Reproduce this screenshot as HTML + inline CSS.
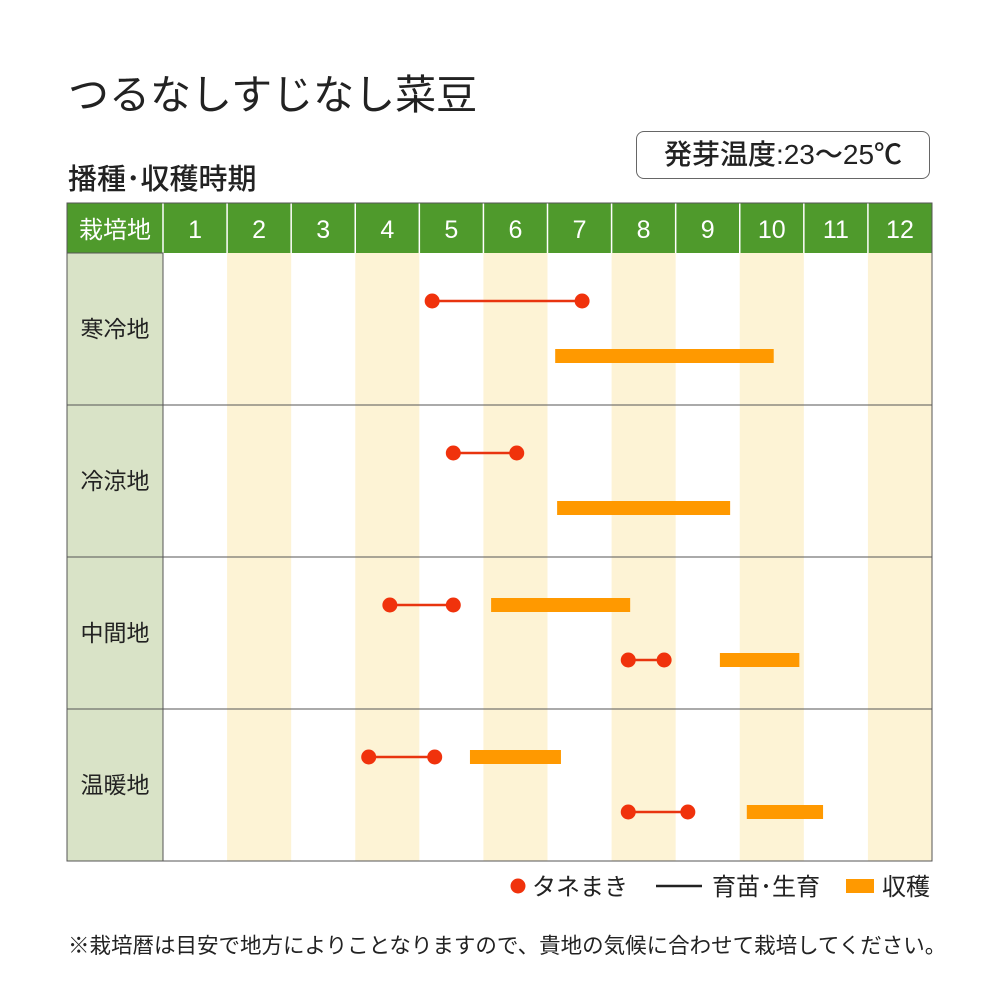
<!DOCTYPE html>
<html><head><meta charset="utf-8"><style>
body{margin:0;background:#fff;font-family:"Liberation Sans","Noto Sans CJK JP",sans-serif;}
#c{position:relative;width:1000px;height:1000px;overflow:hidden}
</style></head><body><div id="c">
<div style="position:absolute;left:68px;top:61px;font-size:41px;color:#222">つるなしすじなし菜豆</div>
<div style="position:absolute;left:68px;top:156px;font-size:29px;font-weight:500;color:#222">播種･収穫時期</div>
<div style="position:absolute;left:636px;top:131px;width:294px;height:48px;border:1.5px solid #666;border-radius:8px;box-sizing:border-box;font-size:28px;font-weight:500;color:#222;text-align:center;line-height:46px;white-space:nowrap">発芽温度:23～25℃</div>
<svg id="s" width="1000" height="1000" style="position:absolute;left:0;top:0"></svg>
<div style="position:absolute;left:68px;top:929px;font-size:21.5px;color:#222;white-space:nowrap">※栽培暦は目安で地方によりことなりますので、貴地の気候に合わせて栽培してください。</div>
</div>
<script>
const months=["1","2","3","4","5","6","7","8","9","10","11","12"];
const regions=["寒冷地","冷涼地","中間地","温暖地"];
// [region index, slot(0 upper,1 lower), start month, end month]
const sowing=[[0,0,5.2,7.54],[1,0,5.53,6.52],[2,0,4.54,5.53],[2,1,8.26,8.82],[3,0,4.21,5.24],[3,1,8.26,9.19]];
const harvest=[[0,1,7.12,10.53],[1,1,7.15,9.85],[2,0,6.12,8.29],[2,1,9.69,10.93],[3,0,5.79,7.21],[3,1,10.11,11.3]];
const NS="http://www.w3.org/2000/svg",s=document.getElementById('s');
const L=163,W=(932-163)/12,T=253,RH=152;
const xm=m=>L+(m-1)*W;
const ry=(r,k)=>T+r*RH+(k?103:48);
function el(t,a,p){const e=document.createElementNS(NS,t);for(const k in a)e.setAttribute(k,a[k]);(p||s).appendChild(e);return e;}
months.forEach((m,i)=>{if(i%2==1){const e=el('rect',{x:xm(i+1),y:T,width:W,height:RH*4,fill:'#fdf3d5'});

}});
let h=el('rect',{x:67,y:203,width:865,height:50,fill:'#4f9a2c'});


let ht=el('text',{x:115,y:238,'font-size':24,fill:'#fff','text-anchor':'middle'});ht.textContent='栽培地';


months.forEach((m,i)=>{const t=el('text',{x:xm(i+1)+W/2,y:238,'font-size':25,fill:'#fff','text-anchor':'middle'});t.textContent=m;


el('line',{x1:xm(i+1),y1:203,x2:xm(i+1),y2:253,stroke:'#fff','stroke-width':1.5});});
regions.forEach((r,i)=>{const b=el('rect',{x:67,y:T+i*RH,width:96,height:RH,fill:'#d9e3c7',stroke:'#555','stroke-width':1});


const t=el('text',{x:115,y:T+i*RH+84,'font-size':23,fill:'#222','text-anchor':'middle'});t.textContent=r;


el('line',{x1:163,y1:T+(i+1)*RH,x2:932,y2:T+(i+1)*RH,stroke:'#555','stroke-width':1});});
el('rect',{x:67,y:203,width:865,height:658,fill:'none',stroke:'#555','stroke-width':1});
harvest.forEach(d=>{const b=el('rect',{x:xm(d[2]),y:ry(d[0],d[1])-7,width:xm(d[3])-xm(d[2]),height:14,fill:'#ff9900'});

});
sowing.forEach(d=>{const y=ry(d[0],d[1]);
const l=el('line',{x1:xm(d[2]),y1:y,x2:xm(d[3]),y2:y,stroke:'#e8340f','stroke-width':2.5});


[d[2],d[3]].forEach(m=>{const c=el('circle',{cx:xm(m),cy:y,r:7.5,fill:'#f0320c'});

});});
let g=el('g',{});


el('circle',{cx:518,cy:886,r:7.5,fill:'#f0320c'},g);
let t1=el('text',{x:532,y:895,'font-size':24,fill:'#222'},g);t1.textContent='タネまき';
el('line',{x1:656,y1:886,x2:702,y2:886,stroke:'#222','stroke-width':2.5},g);
let t2=el('text',{x:712,y:895,'font-size':24,fill:'#222'},g);t2.textContent='育苗･生育';
el('rect',{x:846,y:879,width:28,height:14,fill:'#ff9900'},g);
let t3=el('text',{x:882,y:895,'font-size':24,fill:'#222'},g);t3.textContent='収穫';
</script></body></html>
